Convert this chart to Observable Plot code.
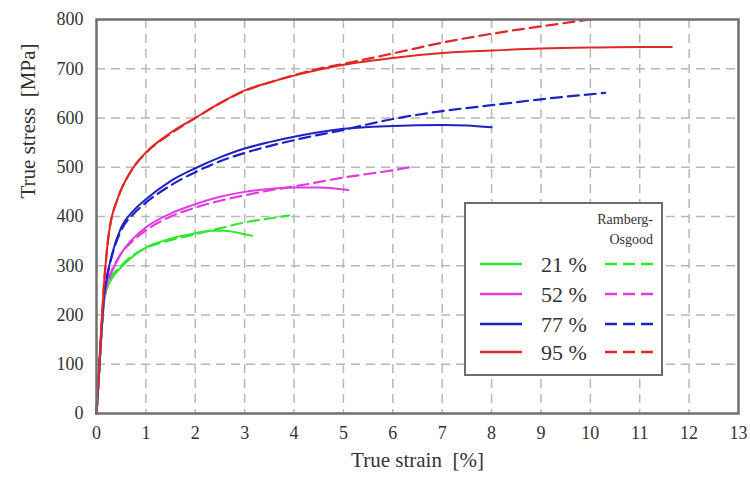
<!DOCTYPE html>
<html><head><meta charset="utf-8">
<script src="https://cdn.jsdelivr.net/npm/d3@7"></script>
<script src="https://cdn.jsdelivr.net/npm/@observablehq/plot@0.6"></script>
<style>
body{margin:0;background:#fff;}
#wrap{position:relative;width:750px;height:485px;font-family:"Liberation Serif","Times New Roman",serif;}
#wrap svg text{white-space:pre;font-family:"Liberation Serif","Times New Roman",serif;}
#legend{position:absolute;left:464px;top:202px;width:199px;height:174px;box-sizing:border-box;border:2px solid #6e6e6e;background:#fff;}
</style></head><body><div id="wrap"></div>
<script>
// Categories and colours
const series = ["21 %", "52 %", "77 %", "95 %"];
const colors = ["#2ee82e", "#e03ce0", "#1e22c0", "#e02828"];
const xTicks = d3.range(0, 14);
const yTicks = d3.range(0, 900, 100);

// Measured curves (solid)
const strain21 = [0,0.05,0.1,0.15,0.2,0.3,0.5,0.75,1,1.5,2,2.3,2.6,2.9,3.15];
const stress21 = [0,80,165,225,250,272,297,320,337,355,366,371,371,366,361];
const strain52 = [0,0.05,0.1,0.15,0.2,0.3,0.5,0.75,1,1.5,2,2.5,3,3.5,4,4.5,5.1];
const stress52 = [0,80,165,230,258,285,325,356,378,406,425,440,450,456,459,459,454];
const strain77 = [0,0.05,0.1,0.15,0.2,0.3,0.5,0.75,1,1.5,2,2.5,3,3.5,4,4.5,5,6,7,7.5,8];
const stress77 = [0,80,165,235,270,318,378,412,435,472,498,520,538,551,562,571,578,584,586,585,581];
const strain95 = [0,0.05,0.1,0.15,0.2,0.25,0.3,0.4,0.5,0.6,0.75,1,1.5,2,2.5,3,3.5,4,4.5,5,6,7,8,9,10,11,11.65];
const stress95 = [0,85,175,260,320,365,395,428,455,475,500,530,570,600,630,656,672,686,698,708,722,732,737,741,743,744,744];

// Ramberg-Osgood fits (dashed)
const strain21RO = [0,0.05,0.1,0.15,0.2,0.3,0.5,0.75,1,1.5,2,2.5,3,3.5,3.9];
const stress21RO = [0,80,165,225,252,276,300,322,336,352,364,376,388,396,402];
const strain52RO = [0,0.05,0.1,0.15,0.2,0.3,0.5,0.75,1,1.5,2,2.5,3,3.5,4,5,6,6.4];
const stress52RO = [0,80,165,230,260,288,325,352,372,400,418,432,443,453,461,479,494,501];
const strain77RO = [0,0.05,0.1,0.15,0.2,0.3,0.5,0.75,1,1.5,2,2.5,3,3.5,4,5,6,7,8,9,10.3];
const stress77RO = [0,80,165,235,270,315,372,405,428,463,490,512,529,543,555,576,598,614,626,638,651];
const strain95RO = [0,0.05,0.1,0.15,0.2,0.25,0.3,0.4,0.5,0.6,0.75,1,1.5,2,2.5,3,3.5,4,4.5,5,6,7,8,9,10];
const stress95RO = [0,85,175,260,320,365,395,428,455,475,500,529,568,600,630,655,672,687,700,710,731,753,771,786,800];

const measuredSets = [[strain21,stress21],[strain52,stress52],[strain77,stress77],[strain95,stress95]];
const roSets = [[strain21RO,stress21RO],[strain52RO,stress52RO],[strain77RO,stress77RO],[strain95RO,stress95RO]];

function toRows(sets){
  const rows = [];
  sets.forEach(([xs, ys], i) => xs.forEach((x, j) => rows.push({series: series[i], strain: x, stress: ys[j]})));
  return rows;
}
const measured = toRows(measuredSets);
const ro = toRows(roSets);
const serif = '"Liberation Serif","Times New Roman",serif';

const chart = Plot.plot({
  width: 750, height: 485,
  marginLeft: 96, marginRight: 12, marginTop: 19, marginBottom: 72,
  style: {fontFamily: serif, background: "#fff", color: "#333"},
  x: {domain: [0, 13]},
  y: {domain: [0, 800]},
  color: {domain: series, range: colors},
  marks: [
    Plot.gridX(xTicks.slice(1, -1), {stroke: "#b8b8b8", strokeOpacity: 1, strokeWidth: 1.5, strokeDasharray: "9,6"}),
    Plot.gridY(yTicks.slice(1, -1), {stroke: "#b8b8b8", strokeOpacity: 1, strokeWidth: 1.5, strokeDasharray: "9,6"}),
    Plot.line(ro, {x: "strain", y: "stress", z: "series", stroke: "series", strokeWidth: 2.2, strokeDasharray: "11,6", curve: "monotone-x"}),
    Plot.line(measured, {x: "strain", y: "stress", z: "series", stroke: "series", strokeWidth: 2, curve: "monotone-x"}),
    Plot.frame({stroke: "#707070", strokeWidth: 2.5}),
    Plot.axisX(xTicks, {tickSize: 0, tickPadding: 13, fontSize: 18, label: null, fill: "#333"}),
    Plot.axisY(yTicks, {tickSize: 0, tickPadding: 13, fontSize: 18, label: null, fill: "#333"}),
    Plot.text(["True strain  [%]"], {frameAnchor: "bottom", dy: 53, fontSize: 21, fill: "#333"}),
    Plot.text(["True stress  [MPa]"], {frameAnchor: "left", dx: -68, dy: -18, rotate: -90, fontSize: 21, fill: "#333"})
  ]
});
const wrap = document.getElementById("wrap");
wrap.appendChild(chart);

// Legend box
const leg = d3.select(wrap).append("div").attr("id", "legend");
const ls = leg.append("svg").attr("width", 195).attr("height", 170).style("display", "block").attr("font-family", serif);
ls.append("text").attr("x", 187).attr("y", 20).attr("text-anchor", "end").attr("font-size", 14).attr("fill", "#333").text("Ramberg-");
ls.append("text").attr("x", 187).attr("y", 40).attr("text-anchor", "end").attr("font-size", 14).attr("fill", "#333").text("Osgood");
const rowY = [60, 90, 120, 148];
series.forEach((s, i) => {
  const y = rowY[i];
  ls.append("line").attr("x1", 14).attr("x2", 56).attr("y1", y).attr("y2", y).attr("stroke", colors[i]).attr("stroke-width", 2.5);
  ls.append("text").attr("x", 98).attr("y", y).attr("dy", "0.35em").attr("text-anchor", "middle").attr("font-size", 22).attr("fill", "#333").text(s);
  ls.append("line").attr("x1", 139).attr("x2", 187).attr("y1", y).attr("y2", y).attr("stroke", colors[i]).attr("stroke-width", 2.5).attr("stroke-dasharray", "12,6");
});
</script></body></html>
